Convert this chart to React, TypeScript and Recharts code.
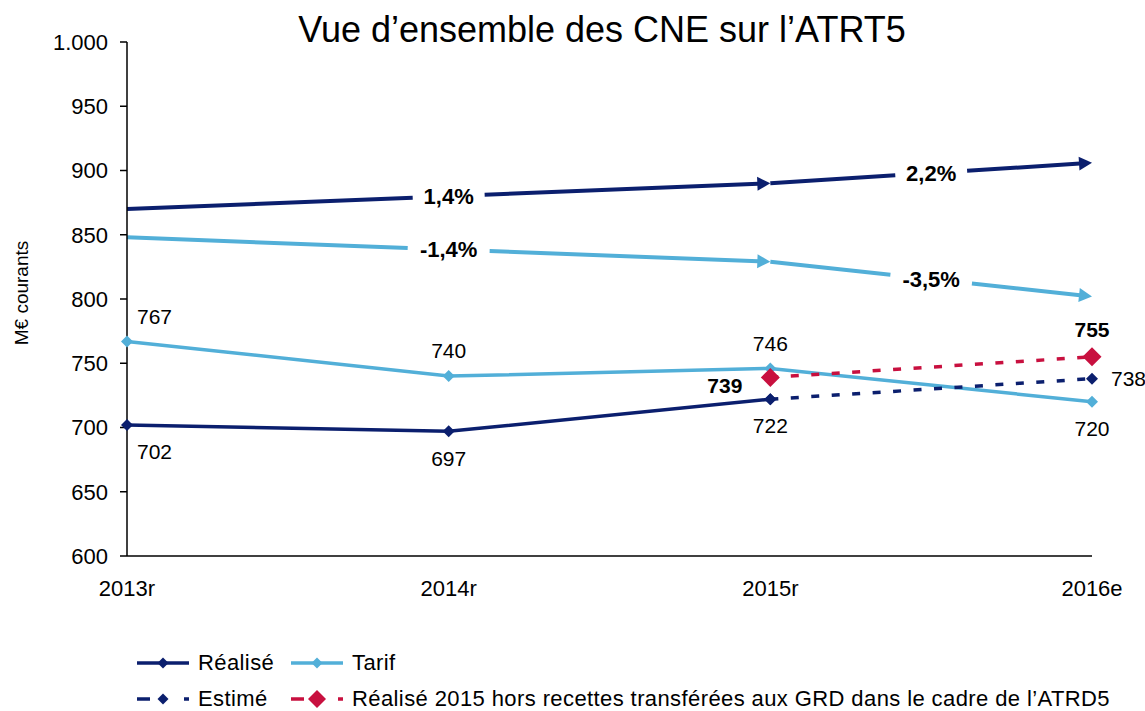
import React from "react";
import {
  CartesianGrid,
  LabelList,
  Line,
  LineChart,
  ReferenceLine,
  XAxis,
  YAxis,
} from "recharts";

const categories = ["2013r", "2014r", "2015r", "2016e"];
const realise = [702, 697, 722, null];
const estime = [null, null, 722, 738];
const tarif = [767, 740, 746, 720];
const realiseHors = [null, null, 739, 755];

// évolutions annuelles moyennes (flèches)
const trendCategories = ["2013r", "2015r", "2016e"];
const trendRealise = [870, 890, 906];
const trendRealiseLabels = ["1,4%", "2,2%"];
const trendTarif = [848, 829, 802];
const trendTarifLabels = ["-1,4%", "-3,5%"];

const yTicks = [600, 650, 700, 750, 800, 850, 900, 950, 1000];

const NAVY = "#0B1F6E";
const SKY = "#52AFD8";
const CRIMSON = "#C8103F";
const FONT = "'Liberation Sans', Arial, sans-serif";

const data = categories.map((category, i) => ({
  category,
  realise: realise[i],
  estime: estime[i],
  tarif: tarif[i],
  realiseHors: realiseHors[i],
}));

const Diamond = ({ cx, cy, r, fill }: any) => {
  if (cx == null || cy == null) return null;
  return (
    <polygon
      points={`${cx},${cy - r} ${cx + r},${cy} ${cx},${cy + r} ${cx - r},${cy}`}
      fill={fill}
    />
  );
};

const makeDot = (color: string, r: number) => (props: any) => {
  const { cx, cy, value, key } = props;
  if (value == null || cx == null) return <g key={key} />;
  return <Diamond key={key} cx={cx} cy={cy} r={r} fill={color} />;
};

type LabelPos = { dx: number; dy: number; anchor: string; bold?: boolean } | null;

const makeLabel = (positions: LabelPos[]) => (props: any) => {
  const { x, y, value, index } = props;
  const pos = positions[index];
  if (!pos || value == null || x == null) return null;
  return (
    <text
      x={x + pos.dx}
      y={y + pos.dy}
      textAnchor={pos.anchor}
      dominantBaseline="central"
      fontFamily={FONT}
      fontSize={21}
      fontWeight={pos.bold ? "bold" : "normal"}
      fill="#000"
    >
      {value}
    </text>
  );
};

const arrowShape = (color: string, label: string, halfGap: number) => (props: any) => {
  const { x1, y1, x2, y2 } = props;
  const len = Math.hypot(x2 - x1, y2 - y1);
  const ux = (x2 - x1) / len;
  const uy = (y2 - y1) / len;
  const mx = (x1 + x2) / 2;
  const my = (y1 + y2) / 2;
  const head = 13;
  const hw = 7;
  const bx = x2 - ux * head;
  const by = y2 - uy * head;
  return (
    <g>
      <line x1={x1} y1={y1} x2={mx - ux * halfGap} y2={my - uy * halfGap} stroke={color} strokeWidth={4} />
      <line x1={mx + ux * halfGap} y1={my + uy * halfGap} x2={bx + ux} y2={by + uy} stroke={color} strokeWidth={4} />
      <polygon
        points={`${x2},${y2} ${bx - uy * hw},${by + ux * hw} ${bx + uy * hw},${by - ux * hw}`}
        fill={color}
      />
      <text
        x={mx}
        y={my}
        textAnchor="middle"
        dominantBaseline="central"
        fontFamily={FONT}
        fontSize={22}
        fontWeight="bold"
        fill="#000"
      >
        {label}
      </text>
    </g>
  );
};

const LegendSample = ({ color, dashed, r }: { color: string; dashed: boolean; r: number }) => (
  <svg width={52} height={20} style={{ display: "block" }}>
    <line
      x1={0}
      y1={10}
      x2={52}
      y2={10}
      stroke={color}
      strokeWidth={3.5}
      strokeDasharray={dashed ? "13 34" : undefined}
    />
    <Diamond cx={26} cy={10} r={r} fill={color} />
  </svg>
);

const legendItems = [
  { name: "Réalisé", color: NAVY, dashed: false, r: 5.5, left: 137, top: 653 },
  { name: "Tarif", color: SKY, dashed: false, r: 5.5, left: 291, top: 653 },
  { name: "Estimé", color: NAVY, dashed: true, r: 5.5, left: 137, top: 689 },
  {
    name: "Réalisé 2015 hors recettes transférées aux GRD dans le cadre de l’ATRD5",
    color: CRIMSON,
    dashed: true,
    r: 9,
    left: 291,
    top: 689,
  },
];

export default function App() {
  return (
    <div
      style={{
        position: "absolute",
        left: 0,
        top: 0,
        width: 1145,
        height: 711,
        background: "#fff",
        fontFamily: FONT,
      }}
    >
      <div
        style={{
          position: "absolute",
          top: 12,
          left: 0,
          width: 1204,
          textAlign: "center",
          fontSize: 36,
          lineHeight: "36px",
          color: "#000",
        }}
      >
        Vue d’ensemble des CNE sur l’ATRT5
      </div>
      <LineChart
        width={1145}
        height={711}
        data={data}
        margin={{ top: 42, right: 53, bottom: 115, left: 0 }}
      >
        <CartesianGrid stroke="none" />
        <XAxis
          dataKey="category"
          tickLine={false}
          axisLine={{ stroke: "#000", strokeWidth: 1.5 }}
          tick={{ fill: "#000", fontSize: 22, fontFamily: FONT }}
          tickMargin={18}
          height={40}
          padding={{ left: 0, right: 0 }}
          interval={0}
        />
        <YAxis
          domain={[600, 1000]}
          ticks={yTicks}
          width={127}
          tickSize={7}
          tickMargin={12}
          tickLine={{ stroke: "#000", strokeWidth: 1.5 }}
          axisLine={{ stroke: "#000", strokeWidth: 1.5 }}
          tick={{ fill: "#000", fontSize: 22, fontFamily: FONT }}
          tickFormatter={(v: number) => (v >= 1000 ? "1.000" : String(v))}
          label={{
            value: "M€ courants",
            angle: -90,
            position: "center",
            dx: -42,
            dy: -6,
            style: { fill: "#000", fontSize: 19, fontFamily: FONT },
          }}
        />
        {trendRealiseLabels.map((label, i) => (
          <ReferenceLine
            key={`r${i}`}
            segment={[
              { x: trendCategories[i], y: trendRealise[i] },
              { x: trendCategories[i + 1], y: trendRealise[i + 1] },
            ]}
            shape={arrowShape(NAVY, label, 36)}
          />
        ))}
        {trendTarifLabels.map((label, i) => (
          <ReferenceLine
            key={`t${i}`}
            segment={[
              { x: trendCategories[i], y: trendTarif[i] },
              { x: trendCategories[i + 1], y: trendTarif[i + 1] },
            ]}
            shape={arrowShape(SKY, label, 41)}
          />
        ))}
        <Line
          dataKey="tarif"
          stroke={SKY}
          strokeWidth={3.5}
          dot={makeDot(SKY, 6)}
          activeDot={false}
          isAnimationActive={false}
        >
          <LabelList
            dataKey="tarif"
            content={makeLabel([
              { dx: 10, dy: -25, anchor: "start" },
              { dx: 0, dy: -26, anchor: "middle" },
              { dx: 0, dy: -25, anchor: "middle" },
              { dx: 0, dy: 27, anchor: "middle" },
            ])}
          />
        </Line>
        <Line
          dataKey="realise"
          stroke={NAVY}
          strokeWidth={3.5}
          dot={makeDot(NAVY, 6)}
          activeDot={false}
          isAnimationActive={false}
        >
          <LabelList
            dataKey="realise"
            content={makeLabel([
              { dx: 10, dy: 27, anchor: "start" },
              { dx: 0, dy: 27, anchor: "middle" },
              { dx: 0, dy: 26, anchor: "middle" },
              null,
            ])}
          />
        </Line>
        <Line
          dataKey="estime"
          stroke={NAVY}
          strokeWidth={3.5}
          strokeDasharray="8 12.5"
          dot={makeDot(NAVY, 6)}
          activeDot={false}
          isAnimationActive={false}
        >
          <LabelList
            dataKey="estime"
            content={makeLabel([null, null, null, { dx: 19, dy: 0, anchor: "start" }])}
          />
        </Line>
        <Line
          dataKey="realiseHors"
          stroke={CRIMSON}
          strokeWidth={3.5}
          strokeDasharray="8 12.5"
          dot={makeDot(CRIMSON, 9.5)}
          activeDot={false}
          isAnimationActive={false}
        >
          <LabelList
            dataKey="realiseHors"
            content={makeLabel([
              null,
              null,
              { dx: -28, dy: 8, anchor: "end", bold: true },
              { dx: 0, dy: -27, anchor: "middle", bold: true },
            ])}
          />
        </Line>
      </LineChart>
      {legendItems.map((item) => (
        <div
          key={item.name}
          style={{
            position: "absolute",
            left: item.left,
            top: item.top,
            display: "flex",
            alignItems: "center",
            fontSize: 22,
            letterSpacing: "0.4px",
            lineHeight: "20px",
            whiteSpace: "nowrap",
            color: "#000",
          }}
        >
          <LegendSample color={item.color} dashed={item.dashed} r={item.r} />
          <span style={{ marginLeft: 9 }}>{item.name}</span>
        </div>
      ))}
    </div>
  );
}
